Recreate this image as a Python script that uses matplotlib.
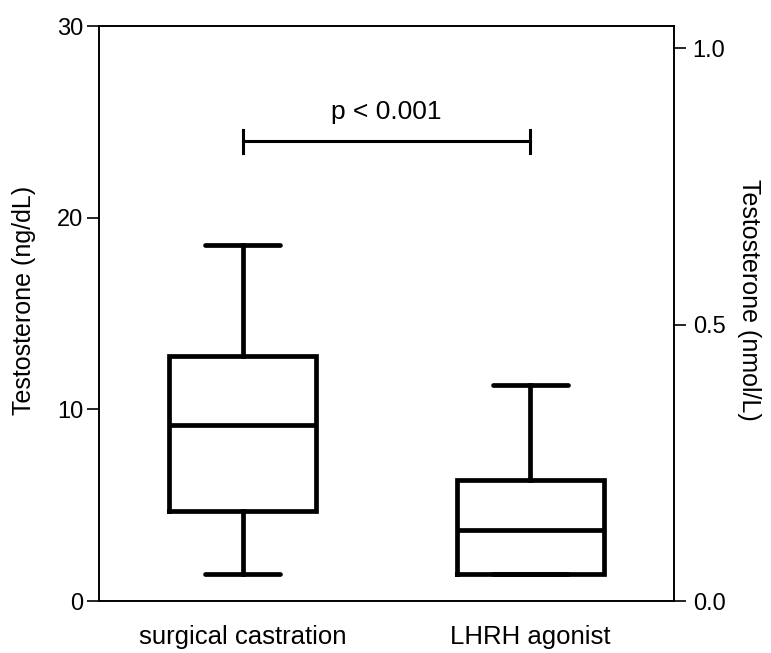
import matplotlib
matplotlib.use("Agg")
from matplotlib import pyplot as plt

plt.rcParams['font.family'] = ['Liberation Sans', 'DejaVu Sans']

groups = ['surgical castration', 'LHRH agonist']
whisker_low = [1.4, 1.4]
q1 = [4.7, 1.4]
median = [9.2, 3.7]
q3 = [12.8, 6.3]
whisker_high = [18.6, 11.25]

p_text = 'p < 0.001'
p_level = 24.0

ng_per_nmol = 28.84  # testosterone: 1 nmol/L = 28.84 ng/dL

stats = [dict(label=g, whislo=lo, q1=a, med=m, q3=b, whishi=hi)
         for g, lo, a, m, b, hi in zip(groups, whisker_low, q1, median, q3, whisker_high)]

fig = plt.figure(figsize=(7.71, 6.53), dpi=100)
ax = fig.add_axes([99 / 771, 52 / 653, 575 / 771, 575 / 653])

lw = 3.4
ax.bxp(stats, positions=[1, 2], widths=0.51, showfliers=False,
       boxprops=dict(linewidth=lw, color='black', solid_joinstyle='miter'),
       medianprops=dict(linewidth=lw, color='black'),
       whiskerprops=dict(linewidth=lw, color='black'),
       capprops=dict(linewidth=lw, color='black', solid_capstyle='round'),
       capwidths=0.26)

# significance bar
ax.plot([1, 2], [p_level, p_level], color='black', lw=2.2)
ax.plot([1, 1], [p_level - 0.6, p_level + 0.6], color='black', lw=2.2)
ax.plot([2, 2], [p_level - 0.6, p_level + 0.6], color='black', lw=2.2)
ax.text(1.5, p_level + 1.5, p_text, ha='center', va='center', fontsize=19)

ax.set_xlim(0.5, 2.5)
ax.set_ylim(0, 30)
ax.set_yticks([0, 10, 20, 30])
ax.set_xticks([1, 2])
ax.set_xticklabels(groups, fontsize=18.5)
ax.tick_params(axis='x', length=0, pad=17)
ax.tick_params(axis='y', length=8.5, width=1.2, labelsize=17, pad=3, direction='out')
ax.set_ylabel('Testosterone (ng/dL)', fontsize=18, va='center')
ax.yaxis.set_label_coords(-0.130, 0.523)
for s in ax.spines.values():
    s.set_linewidth(1.2)

ax2 = ax.twinx()
ax2.set_ylim(0, 30 / ng_per_nmol)
ax2.set_yticks([0.0, 0.5, 1.0])
ax2.set_yticklabels(['0.0', '0.5', '1.0'])
ax2.tick_params(axis='y', length=8.5, width=1.2, labelsize=17, pad=5, direction='out')
ax2.set_ylabel('Testosterone (nmol/L)', fontsize=18, rotation=270, va='center')
ax2.yaxis.set_label_coords(1.13, 0.523)
for s in ax2.spines.values():
    s.set_linewidth(1.2)

fig.savefig('out.png', dpi=100)
